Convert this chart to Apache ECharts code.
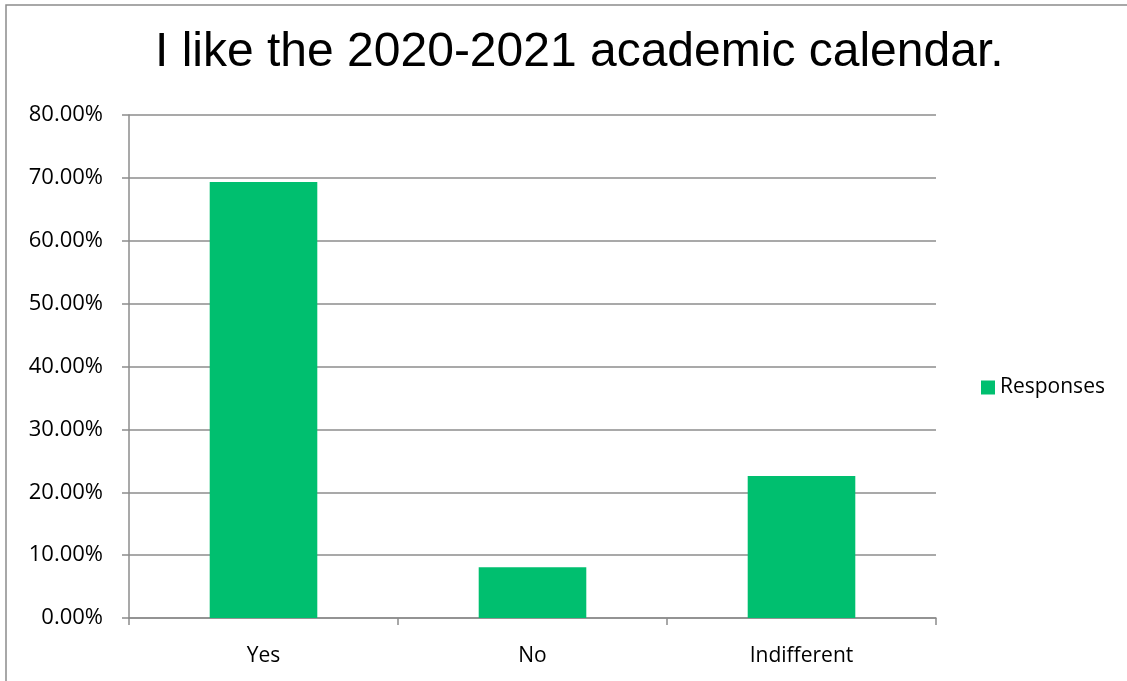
<!DOCTYPE html>
<html>
<head>
<meta charset="utf-8">
<script src="https://cdn.jsdelivr.net/npm/echarts@6.0.0/dist/echarts.min.js"></script>
<style>
  html, body { margin: 0; padding: 0; background: #fff; }
  #chart { width: 1127px; height: 681px; }
</style>
</head>
<body>
<div id="chart"></div>
<script>
var categories = ['Yes', 'No', 'Indifferent'];
var responses = [69.35, 8.06, 22.58];
var seriesName = 'Responses';
var titleText = 'I like the 2020-2021 academic calendar.';

var myChart = echarts.init(document.getElementById('chart'));

var option = {
    animation: false,
    backgroundColor: '#fff',
    title: {
        text: titleText,
        left: 150,
        top: 24,
        textStyle: {
            fontFamily: 'Liberation Sans',
            fontSize: 48,
            fontWeight: 'normal',
            color: '#000'
        }
    },
    graphic: [{
        type: 'rect',
        shape: { x: 6, y: 5, width: 1200, height: 800 },
        style: { fill: 'none', stroke: '#8c8c8c', lineWidth: 1.5 },
        silent: true
    }],
    legend: {
        data: [seriesName],
        orient: 'vertical',
        left: 976,
        top: 372,
        itemWidth: 14,
        itemHeight: 14,
        itemGap: 8,
        icon: 'rect',
        textStyle: { fontFamily: 'Open Sans', fontSize: 21, color: '#000' }
    },
    grid: {
        left: 129,
        top: 115,
        width: 807,
        height: 503
    },
    xAxis: {
        type: 'category',
        data: categories,
        axisLine: { lineStyle: { color: '#8c8c8c', width: 1.5 } },
        axisTick: { show: true, length: 7, inside: false, lineStyle: { color: '#8c8c8c', width: 1.5 } },
        axisLabel: { fontFamily: 'Open Sans', fontSize: 21, color: '#000', margin: 28 }
    },
    yAxis: {
        type: 'value',
        min: 0,
        max: 80,
        interval: 10,
        axisLine: { show: true, lineStyle: { color: '#8c8c8c', width: 1.5 } },
        axisTick: { show: true, length: 7, lineStyle: { color: '#8c8c8c', width: 1.5 } },
        splitLine: { lineStyle: { color: '#8c8c8c', width: 1.5 } },
        axisLabel: {
            fontFamily: 'Open Sans',
            fontSize: 22,
            color: '#000',
            margin: 26,
            formatter: function (v) { return v.toFixed(2) + '%'; }
        }
    },
    series: [{
        name: seriesName,
        type: 'bar',
        data: responses,
        barWidth: '40%',
        itemStyle: { color: '#00bf6f' }
    }]
};

myChart.setOption(option);
</script>
</body>
</html>
